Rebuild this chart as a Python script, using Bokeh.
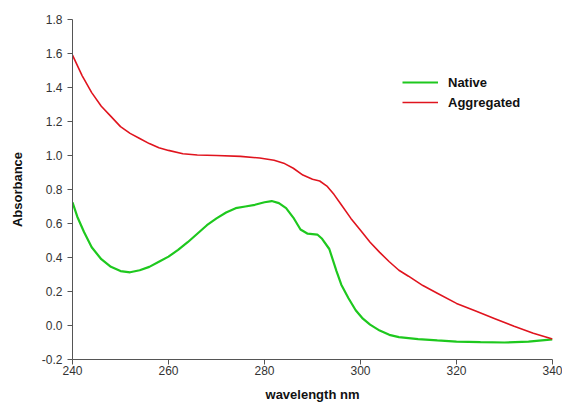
from bokeh.plotting import figure
from bokeh.models import Range1d, FixedTicker, Legend, LegendItem, NumeralTickFormatter
from bokeh.embed import file_html
from bokeh.resources import INLINE

native_wl = [240, 241, 242.4, 244, 246, 248, 250, 252, 254, 256, 258, 260, 262, 264, 266, 268,
             270, 272, 274, 276, 278, 280, 281.5, 283, 284.5, 286, 287.5, 289, 291, 292, 293.5,
             295, 296, 297.5, 299, 300.5, 302, 304, 306, 308, 312, 316, 320, 325, 330, 335, 340]
native_abs = [0.725, 0.64, 0.55, 0.46, 0.39, 0.345, 0.32, 0.313, 0.325, 0.345, 0.375, 0.405,
              0.445, 0.49, 0.54, 0.59, 0.63, 0.665, 0.69, 0.70, 0.71, 0.725, 0.732, 0.72, 0.69,
              0.635, 0.565, 0.54, 0.535, 0.51, 0.45, 0.32, 0.24, 0.16, 0.09, 0.04, 0.005, -0.03,
              -0.055, -0.068, -0.08, -0.088, -0.095, -0.098, -0.10, -0.095, -0.082]

agg_wl = [240, 242, 244, 246, 248, 250, 252, 254, 256, 258, 260, 263, 266, 270, 275, 279, 282,
          284, 286, 288, 290, 291.5, 293, 294.5, 296, 298, 300, 302, 304, 306, 308, 310, 313,
          316, 320, 324, 328, 332, 336, 340]
agg_abs = [1.59, 1.47, 1.37, 1.29, 1.23, 1.17, 1.13, 1.10, 1.07, 1.045, 1.03, 1.01, 1.003, 1.0,
           0.995, 0.985, 0.972, 0.955, 0.925, 0.885, 0.86, 0.85, 0.82, 0.77, 0.71, 0.63, 0.56,
           0.49, 0.43, 0.375, 0.325, 0.29, 0.235, 0.19, 0.13, 0.085, 0.04, -0.005, -0.045, -0.08]

x_ticks = [240, 260, 280, 300, 320, 340]
y_ticks = [-0.2, 0.0, 0.2, 0.4, 0.6, 0.8, 1.0, 1.2, 1.4, 1.6, 1.8]

p = figure(width=562, height=405, output_backend="svg", toolbar_location=None,
           x_range=Range1d(240, 340), y_range=Range1d(-0.2, 1.8),
           min_border_left=72, min_border_right=10, min_border_top=19, min_border_bottom=46)
p.outline_line_color = None
p.xgrid.visible = False
p.ygrid.visible = False

r_native = p.line(native_wl, native_abs, line_color="#1ec81e", line_width=2.2)
r_agg = p.line(agg_wl, agg_abs, line_color="#e0141e", line_width=1.6)

for ax in (p.xaxis[0], p.yaxis[0]):
    ax.axis_line_color = "#555555"
    ax.major_tick_line_color = "#555555"
    ax.major_tick_out = 5
    ax.major_tick_in = 0
    ax.minor_tick_line_color = None
    ax.major_label_text_font = "Liberation Sans"
    ax.major_label_text_font_size = "12px"
    ax.major_label_text_color = "#333333"
    ax.axis_label_text_font = "Liberation Sans"
    ax.axis_label_text_font_style = "bold"
    ax.axis_label_text_font_size = "13px"
    ax.axis_label_text_color = "#111111"

p.xaxis[0].ticker = FixedTicker(ticks=x_ticks)
p.yaxis[0].ticker = FixedTicker(ticks=y_ticks)
p.yaxis[0].formatter = NumeralTickFormatter(format="0.0")
p.xaxis[0].axis_label = "wavelength nm"
p.yaxis[0].axis_label = "Absorbance"
p.xaxis[0].major_label_standoff = 1
p.yaxis[0].major_label_standoff = 5
p.xaxis[0].axis_label_standoff = 9
p.yaxis[0].axis_label_standoff = 14

legend = Legend(items=[LegendItem(label="Native", renderers=[r_native]),
                       LegendItem(label="Aggregated", renderers=[r_agg])],
                location=(330, 247))
legend.background_fill_alpha = 0
legend.border_line_color = None
legend.padding = 0
legend.margin = 0
legend.spacing = 0
legend.glyph_width = 36
legend.glyph_height = 20
legend.label_height = 20
legend.label_standoff = 10
legend.label_text_font = "Liberation Sans"
legend.label_text_font_style = "bold"
legend.label_text_font_size = "13px"
legend.label_text_color = "#111111"
p.add_layout(legend, "center")

open("out.html", "w").write(file_html(p, INLINE))
